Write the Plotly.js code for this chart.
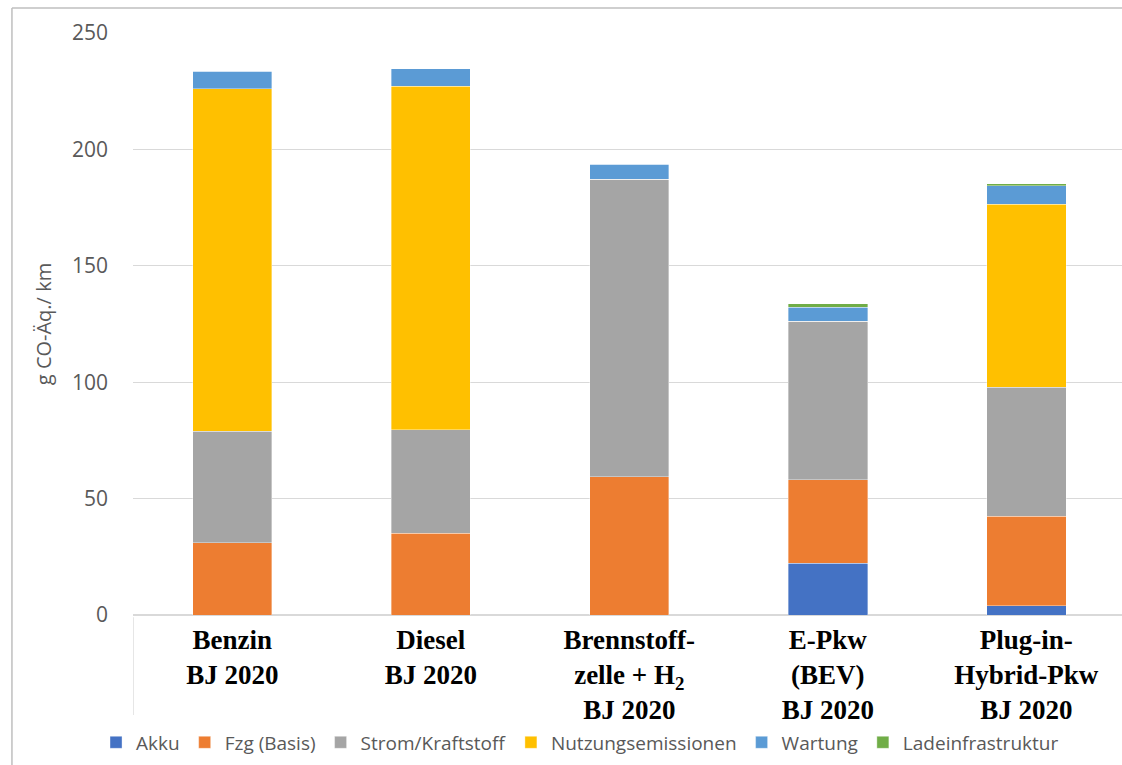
<!DOCTYPE html>
<html>
<head>
<meta charset="utf-8">
<script src="https://cdn.plot.ly/plotly-3.0.1.min.js"></script>
<style>html,body{margin:0;padding:0;background:#fff;}#chart{width:1122px;height:765px;}</style>
</head>
<body>
<div id="chart"></div>
<script>
const categories = [
  "Benzin<br>BJ 2020",
  "Diesel<br>BJ 2020",
  "Brennstoff-<br>zelle + H<sub>2</sub><br>BJ 2020",
  "E-Pkw<br>(BEV)<br>BJ 2020",
  "Plug-in-<br>Hybrid-Pkw<br>BJ 2020"
];
const akku        = [0,    0,    0,     22.2, 3.9];
const fzgBasis    = [31.1, 35.2, 59.3,  36.0, 38.6];
const stromKraft  = [47.8, 44.3, 127.9, 68.0, 55.4];
const nutzung     = [147.2,147.7,0,     0,    78.5];
const wartung     = [7.4,  7.5,  6.4,   6.1,  7.9];
const ladeinfra   = [0,    0,    0,     1.5,  1.0];

const seriesNames = ["Akku","Fzg (Basis)","Strom/Kraftstoff","Nutzungsemissionen","Wartung","Ladeinfrastruktur"];
const seriesValues = [akku, fzgBasis, stromKraft, nutzung, wartung, ladeinfra];
const seriesColors = ["#4472C4","#ED7D31","#A5A5A5","#FFC000","#5B9BD5","#70AD47"];

const traces = seriesNames.map((n,i)=>({
  type:'bar', name:n, x:categories, y:seriesValues[i],
  width:0.4,
  marker:{color:seriesColors[i], line:{color:'rgba(255,255,255,0.6)', width:0.6}},
  hoverinfo:'skip'
}));

const layout = {
  width:1122, height:765,
  margin:{l:133, r:0, t:33, b:150},
  paper_bgcolor:'#fff', plot_bgcolor:'#fff',
  barmode:'stack',
  showlegend:true,
  font:{family:'Open Sans', color:'#595959'},
  xaxis:{
    type:'category',
    range:[-0.5, 4.482],
    showgrid:false, zeroline:false, showline:false,
    ticks:'', ticklabelstandoff:6,
    tickfont:{family:'Liberation Serif', size:27, color:'#000', weight:'bold'},
    fixedrange:true
  },
  yaxis:{
    range:[0,250], dtick:50,
    showgrid:true, gridcolor:'#D9D9D9', gridwidth:1.3,
    zeroline:true, zerolinecolor:'#D9D9D9', zerolinewidth:1.3,
    showline:false, ticks:'', ticklabelstandoff:24,
    tickfont:{family:'Open Sans', size:21, color:'#595959'},
    title:{text:'g CO-Äq./ km', font:{family:'Open Sans', size:20, color:'#595959'}, standoff:14},
    fixedrange:true
  },
  legend:{
    orientation:'h', x:0.452, xanchor:'center', y:-0.219, yanchor:'middle',
    font:{family:'Open Sans', size:19, color:'#595959'},
    traceorder:'normal', itemwidth:30, itemclick:false
  },
  shapes:[
    {type:'line', xref:'x', yref:'paper', x0:-0.5, x1:-0.5, y0:-0.004, y1:-0.172, line:{color:'#D9D9D9', width:1.3}},
    {type:'line', xref:'paper', yref:'paper', x0:-0.1224, x1:1.3, y0:1.043, y1:1.043, line:{color:'#BFBFBF', width:1.5}, layer:'above'},
    {type:'line', xref:'paper', yref:'paper', x0:-0.1224, x1:-0.1224, y0:1.043, y1:-0.5, line:{color:'#BFBFBF', width:1.5}, layer:'above'}
  ]
};

Plotly.newPlot('chart', traces, layout, {displayModeBar:false, staticPlot:true});
</script>
</body>
</html>
